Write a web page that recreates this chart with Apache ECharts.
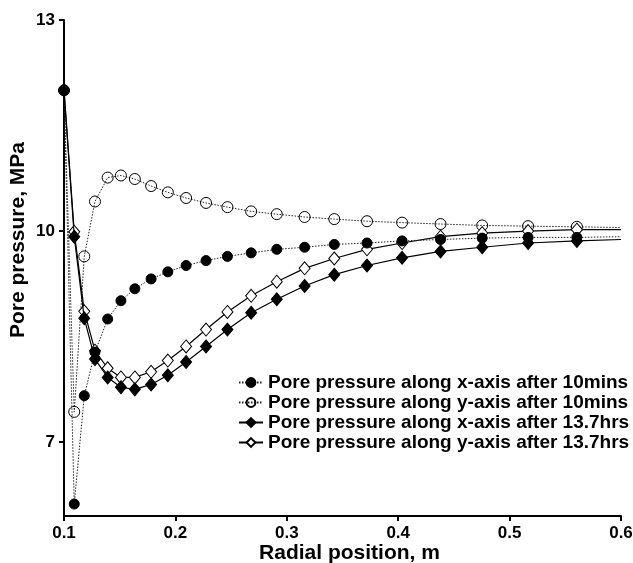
<!DOCTYPE html>
<html>
<head>
<meta charset="utf-8">
<script src="https://cdn.jsdelivr.net/npm/echarts@6/dist/echarts.min.js"></script>
<style>
  html, body { margin: 0; padding: 0; background: #fff; }
  #chart { width: 633px; height: 563px; }
</style>
</head>
<body>
<div id="chart"></div>
<script>
// Radial mesh positions (m)
const radius = [0.1, 0.1092, 0.1182, 0.1278, 0.1392, 0.1511, 0.1636, 0.1782, 0.1932, 0.2096,
  0.2275, 0.2467, 0.268, 0.291, 0.316, 0.3426, 0.372, 0.4035, 0.438, 0.4754, 0.5166, 0.5604, 0.6];

// Pore pressure (MPa)
const xAxis10min = [12.0, 6.12, 7.66, 8.28, 8.75, 9.01, 9.18, 9.32, 9.42, 9.51, 9.58, 9.64,
  9.69, 9.74, 9.77, 9.81, 9.83, 9.86, 9.88, 9.90, 9.91, 9.91, 9.92];
const yAxis10min = [12.0, 7.43, 9.64, 10.42, 10.76, 10.79, 10.74, 10.64, 10.55, 10.47, 10.40, 10.34,
  10.28, 10.24, 10.20, 10.17, 10.14, 10.12, 10.10, 10.08, 10.07, 10.06, 10.05];
const xAxis137h = [12.0, 9.92, 8.76, 8.18, 7.92, 7.78, 7.75, 7.82, 7.95, 8.14, 8.36, 8.60,
  8.84, 9.03, 9.22, 9.38, 9.51, 9.62, 9.71, 9.77, 9.83, 9.86, 9.88];
const yAxis137h = [12.0, 9.99, 8.86, 8.30, 8.05, 7.92, 7.92, 8.00, 8.16, 8.36, 8.60, 8.85,
  9.08, 9.28, 9.47, 9.61, 9.74, 9.83, 9.92, 9.97, 10.00, 10.02, 10.02];

const seriesNames = [
  'Pore pressure along x-axis after 10mins',
  'Pore pressure along y-axis after 10mins',
  'Pore pressure along x-axis after 13.7hrs',
  'Pore pressure along y-axis after 13.7hrs'
];
const xTicks = [0.1, 0.2, 0.3, 0.4, 0.5, 0.6];
const yTicks = [7, 10, 13];

const FONT = "'Liberation Sans', Arial, sans-serif";

// pair radius with values; the outer boundary point carries no marker
function pairs(vals) {
  return radius.map((r, i) => i === radius.length - 1
    ? { value: [r, vals[i]], symbol: 'none' }
    : [r, vals[i]]);
}

function lineSeries(name, vals, opts) {
  return Object.assign({
    name: name,
    type: 'line',
    data: pairs(vals),
    showAllSymbol: true,
    clip: true,
    emphasis: { disabled: true }
  }, opts);
}

const chart = echarts.init(document.getElementById('chart'), null, { renderer: 'canvas' });

chart.setOption({
  animation: false,
  backgroundColor: '#fff',
  grid: { left: 64, right: 12, top: 20, bottom: 47, containLabel: false, outerBoundsMode: 'none' },
  legend: {
    data: seriesNames,
    orient: 'vertical',
    left: 233,
    top: 368,
    itemWidth: 24,
    itemHeight: 11,
    itemGap: 1,
    selectedMode: false,
    textStyle: { fontFamily: FONT, fontWeight: 'bold', fontSize: 19, color: '#000', lineHeight: 17 }
  },
  xAxis: {
    type: 'value',
    min: 0.1,
    max: 0.6,
    interval: 0.1,
    name: 'Radial position, m',
    nameLocation: 'middle',
    nameGap: 27,
    nameMoveOverlap: false,
    nameTextStyle: { fontFamily: FONT, fontWeight: 'bold', fontSize: 21, color: '#000', padding: [0, 0, 0, 14] },
    axisLine: { lineStyle: { color: '#000', width: 2 } },
    axisTick: { length: 5, lineStyle: { color: '#000', width: 2 }, customValues: xTicks },
    axisLabel: {
      customValues: xTicks,
      margin: 9,
      fontFamily: FONT, fontWeight: 'bold', fontSize: 17, color: '#000',
      formatter: v => v.toFixed(1)
    },
    splitLine: { show: false }
  },
  yAxis: {
    type: 'value',
    min: 5.95,
    max: 13,
    axisLine: { show: true, lineStyle: { color: '#000', width: 2 } },
    axisTick: { show: true, length: 5, lineStyle: { color: '#000', width: 2 }, customValues: yTicks },
    axisLabel: {
      customValues: yTicks,
      margin: 9,
      fontFamily: FONT, fontWeight: 'bold', fontSize: 17, color: '#000'
    },
    splitLine: { show: false }
  },
  graphic: [{
    type: 'text',
    x: 18,
    y: 240,
    rotation: Math.PI / 2,
    style: {
      text: 'Pore pressure, MPa',
      fontFamily: FONT, fontWeight: 'bold', fontSize: 21, fill: '#000',
      textAlign: 'center', textVerticalAlign: 'middle'
    }
  }],
  series: [
    lineSeries(seriesNames[0], xAxis10min, {
      z: 4,
      symbol: 'circle', symbolSize: 10,
      itemStyle: { color: '#000', borderColor: '#000', borderWidth: 1 },
      lineStyle: { color: '#222', width: 1, type: [1.5, 1.5] }
    }),
    lineSeries(seriesNames[1], yAxis10min, {
      z: 2,
      symbol: 'circle', symbolSize: 11,
      itemStyle: { color: 'rgba(255,255,255,0)', borderColor: '#000', borderWidth: 1 },
      lineStyle: { color: '#222', width: 1, type: [1.5, 1.5] }
    }),
    lineSeries(seriesNames[2], xAxis137h, {
      z: 5,
      symbol: 'diamond', symbolSize: [11, 13],
      itemStyle: { color: '#000', borderColor: '#000', borderWidth: 1 },
      lineStyle: { color: '#000', width: 1.2 }
    }),
    lineSeries(seriesNames[3], yAxis137h, {
      z: 3,
      symbol: 'diamond', symbolSize: [11, 13],
      itemStyle: { color: '#fff', borderColor: '#000', borderWidth: 1 },
      lineStyle: { color: '#000', width: 1.2 }
    })
  ]
});
</script>
</body>
</html>
